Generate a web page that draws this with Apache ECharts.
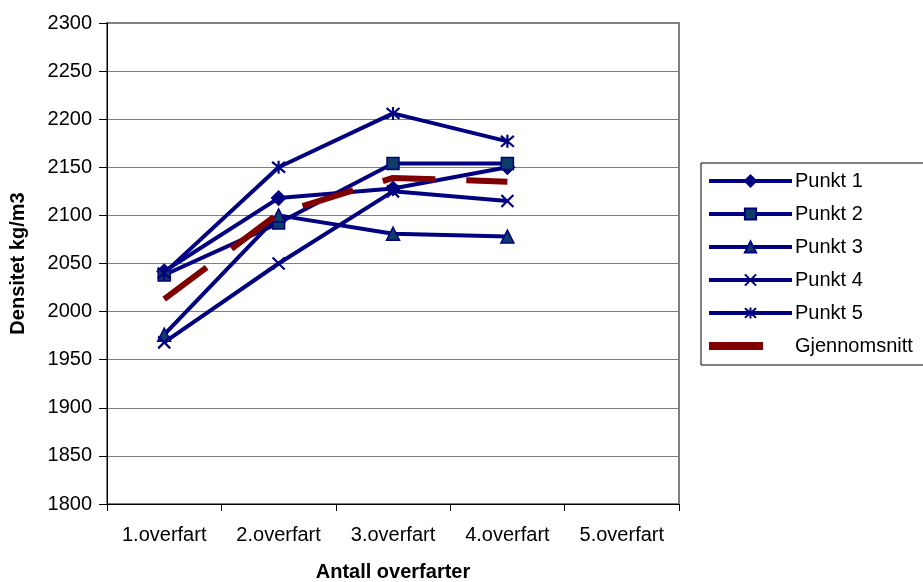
<!DOCTYPE html>
<html>
<head>
<meta charset="utf-8">
<script src="https://cdn.jsdelivr.net/npm/echarts@6/dist/echarts.min.js"></script>
<style>
html,body{margin:0;padding:0;background:#fff;}
#chart{width:923px;height:582px;}
</style>
</head>
<body>
<div id="chart"></div>
<script>
var categories = ['1.overfart', '2.overfart', '3.overfart', '4.overfart', '5.overfart'];
var punkt1 = [2042, 2118, 2128, 2150];
var punkt2 = [2038, 2092, 2154, 2154];
var punkt3 = [1976, 2100, 2081, 2078];
var punkt4 = [1968, 2050, 2125, 2115];
var punkt5 = [2040, 2150, 2206, 2177];
var gjennomsnitt = [2013, 2102, 2139, 2135];
var yTicks = { min: 1800, max: 2300, step: 50 };

var FONT = 'Liberation Sans, Arial, sans-serif';
var NAVY = '#000080';
var FILL = '#0b3d66';
var RED = '#800000';

var xPath = 'path://M0,0L10,10M10,0L0,10';
var starPath = 'path://M0,1L10,11M10,1L0,11M5,0L5,12';
var redLegendIcon = 'path://M0,0L0,0M83,14L83,14M0,3L54,3L54,11L0,11Z';

function blueSeries(name, data, symbol, size, filled) {
  return {
    name: name,
    type: 'line',
    data: data,
    symbol: symbol,
    symbolSize: size,
    showSymbol: true,
    lineStyle: { color: NAVY, width: 4 },
    itemStyle: filled
      ? { color: filled, borderColor: NAVY, borderWidth: 1.5 }
      : { color: 'rgba(0,0,0,0)', borderColor: NAVY, borderWidth: 2.2 },
    emphasis: { disabled: true },
    z: 2
  };
}

var chart = echarts.init(document.getElementById('chart'), null, { renderer: 'canvas' });
chart.setOption({
  animation: false,
  backgroundColor: '#fff',
  textStyle: { fontFamily: FONT },
  grid: {
    left: 107, right: 244, top: 23, bottom: 78,
    containLabel: false,
    outerBoundsMode: 'none',
    show: true, borderColor: '#808080', borderWidth: 2, backgroundColor: 'transparent'
  },
  legend: {
    orient: 'vertical',
    left: 701, top: 163,
    padding: [8, 200, 9, 6],
    itemWidth: 83, itemHeight: 14, itemGap: 13,
    borderColor: '#000', borderWidth: 1,
    backgroundColor: '#fff',
    lineStyle: { width: 4 },
    textStyle: { fontSize: 20, color: '#000', fontFamily: FONT, padding: [0, 0, 0, -2] },
    data: [
      { name: 'Punkt 1' },
      { name: 'Punkt 2' },
      { name: 'Punkt 3' },
      { name: 'Punkt 4' },
      { name: 'Punkt 5' },
      { name: 'Gjennomsnitt', icon: redLegendIcon, itemStyle: { color: RED, borderWidth: 0 } }
    ]
  },
  xAxis: {
    type: 'category',
    data: categories,
    boundaryGap: true,
    name: 'Antall overfarter',
    nameLocation: 'middle',
    nameGap: 58,
    nameTextStyle: { fontSize: 20, fontWeight: 'bold', color: '#000', fontFamily: FONT },
    axisLine: { lineStyle: { color: '#000', width: 1 } },
    axisTick: { show: true, length: 7, interval: 0, lineStyle: { color: '#000' } },
    axisLabel: { fontSize: 20, color: '#000', margin: 21, interval: 0, fontFamily: FONT },
    splitLine: { show: false }
  },
  yAxis: {
    type: 'value',
    min: yTicks.min, max: yTicks.max, interval: yTicks.step,
    name: 'Densitet kg/m3',
    nameLocation: 'middle',
    nameGap: 79,
    nameRotate: 90,
    nameTextStyle: { fontSize: 20, fontWeight: 'bold', color: '#000', fontFamily: FONT },
    axisLine: { show: true, lineStyle: { color: '#000', width: 1 } },
    axisTick: { show: true, length: 8, lineStyle: { color: '#000' } },
    axisLabel: {
      fontSize: 20, color: '#000', margin: 15, fontFamily: FONT,
      formatter: function (v) { return String(v); }
    },
    splitLine: { show: true, lineStyle: { color: '#808080', width: 1 } }
  },
  series: [
    blueSeries('Punkt 1', punkt1, 'diamond', 14, NAVY),
    blueSeries('Punkt 2', punkt2, 'rect', 12, FILL),
    blueSeries('Punkt 3', punkt3, 'triangle', 13, FILL),
    blueSeries('Punkt 4', punkt4, xPath, 12, null),
    blueSeries('Punkt 5', punkt5, starPath, 13, null),
    {
      name: 'Gjennomsnitt',
      type: 'line',
      data: gjennomsnitt,
      symbol: 'none',
      lineStyle: { color: RED, width: 6, type: [53, 31], cap: 'butt' },
      itemStyle: { color: RED },
      emphasis: { disabled: true },
      z: 3
    }
  ]
});
</script>
</body>
</html>
